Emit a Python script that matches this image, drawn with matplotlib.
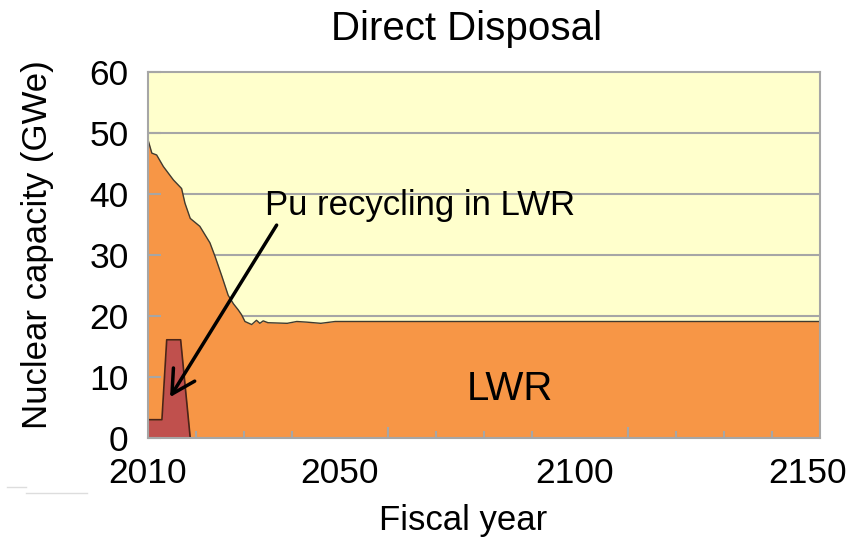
import matplotlib

matplotlib.use("Agg")
import matplotlib.pyplot as plt
from matplotlib.lines import Line2D
from matplotlib.transforms import ScaledTranslation

plt.rcParams["font.family"] = ["Liberation Sans", "DejaVu Sans"]

# LWR nuclear capacity (GWe) by fiscal year
lwr_years = [2010, 2010.8, 2011.8, 2013.2, 2015.3, 2017.0, 2017.7, 2018.8, 2020.8,
             2022.9, 2024.0, 2025.4, 2026.7, 2027.8, 2028.8, 2029.5, 2030.2, 2031.6,
             2032.6, 2033.3, 2034.0, 2035.0, 2039.0, 2041.0, 2043.0, 2046.0, 2049.0,
             2150]
lwr_values = [48.9, 46.7, 46.4, 44.5, 42.3, 40.9, 38.5, 36.0, 34.7,
              32.0, 29.7, 26.5, 23.4, 22.0, 21.0, 20.2, 19.1, 18.6,
              19.3, 18.8, 19.2, 18.9, 18.8, 19.1, 19.0, 18.8, 19.1,
              19.1]

# Pu recycling in LWR
pu_years = [2010, 2012.9, 2013.9, 2016.8, 2018.8]
pu_values = [3.0, 3.0, 16.1, 16.1, 0.0]

x_labels = [2010, 2050, 2100, 2150]
y_ticks = [0, 10, 20, 30, 40, 50, 60]

W, H = 857, 543
fig = plt.figure(figsize=(W / 100, H / 100), dpi=100)
ax = fig.add_axes([148 / W, 1 - 438 / H, 672 / W, 366 / H])
ax.set_facecolor("#FFFFCC")

for v in y_ticks[1:-1]:
    ax.axhline(v, color="#A6A6A6", lw=1.5, zorder=0.5)

ax.fill_between(lwr_years, lwr_values, 0, color="#F79646", lw=0, zorder=1)
ax.plot(lwr_years, lwr_values, color="#3F3A30", lw=1.0, zorder=1.2)
ax.fill_between(pu_years, pu_values, 0, color="#C0504D", lw=0, zorder=1.3)
ax.plot(pu_years, pu_values, color="#4A2418", lw=1.2, zorder=1.4)

ax.set_xlim(2010, 2150)
ax.set_ylim(0, 60)
ax.set_yticks(y_ticks)
ax.set_xticks(x_labels)
ax.set_xticks(range(2020, 2150, 10), minor=True)
ax.tick_params(axis="y", direction="in", length=9, width=1.5, color="#A6A6A6",
               labelsize=25.5, pad=14)
ax.tick_params(axis="x", which="major", length=0, labelsize=25.5, pad=14)
ax.tick_params(axis="x", which="minor", direction="in", length=5, width=1.5,
               color="#A6A6A6")
ax.vlines([2060, 2110], 0, 0.03, transform=ax.get_xaxis_transform(),
          color="#A6A6A6", lw=1.5, zorder=3)
for s in ax.spines.values():
    s.set_color("#A6A6A6")
    s.set_linewidth(1.5)
    s.set_zorder(3)

# the reference labels sit a little left of their ticks at the right end
for lab, dx in zip(ax.get_xticklabels(), [0, 0, -5, -12]):
    lab.set_transform(lab.get_transform() + ScaledTranslation(dx / 100, 0, fig.dpi_scale_trans))

ax.annotate("", xy=(2014.6, 6.7), xytext=(2036.8, 34.9),
            arrowprops=dict(arrowstyle="->,head_length=0.55,head_width=0.3",
                            color="black", lw=2.5, mutation_scale=30,
                            shrinkA=0, shrinkB=0), zorder=4)
ax.text(2034.4, 36.6, "Pu recycling in LWR", fontsize=25, va="baseline", ha="left",
        zorder=4)
ax.text(2085.5, 6.2, "LWR", fontsize=29, va="baseline", ha="center", zorder=4)

fig.text(467 / W, 1 - 40 / H, "Direct Disposal", fontsize=29, ha="center", va="baseline")
fig.text(463 / W, 1 - 530 / H, "Fiscal year", fontsize=25, ha="center", va="baseline")
fig.text(38 / W, 1 - 245 / H, "Nuclear capacity (GWe)", fontsize=25, rotation=90,
         ha="center", va="center")

fig.add_artist(Line2D([7 / W, 26 / W], [1 - 487 / H] * 2, color="#DDDDDD", lw=1))
fig.add_artist(Line2D([26 / W, 87 / W], [1 - 493 / H] * 2, color="#DDDDDD", lw=1))

fig.savefig("out.png", dpi=100)
